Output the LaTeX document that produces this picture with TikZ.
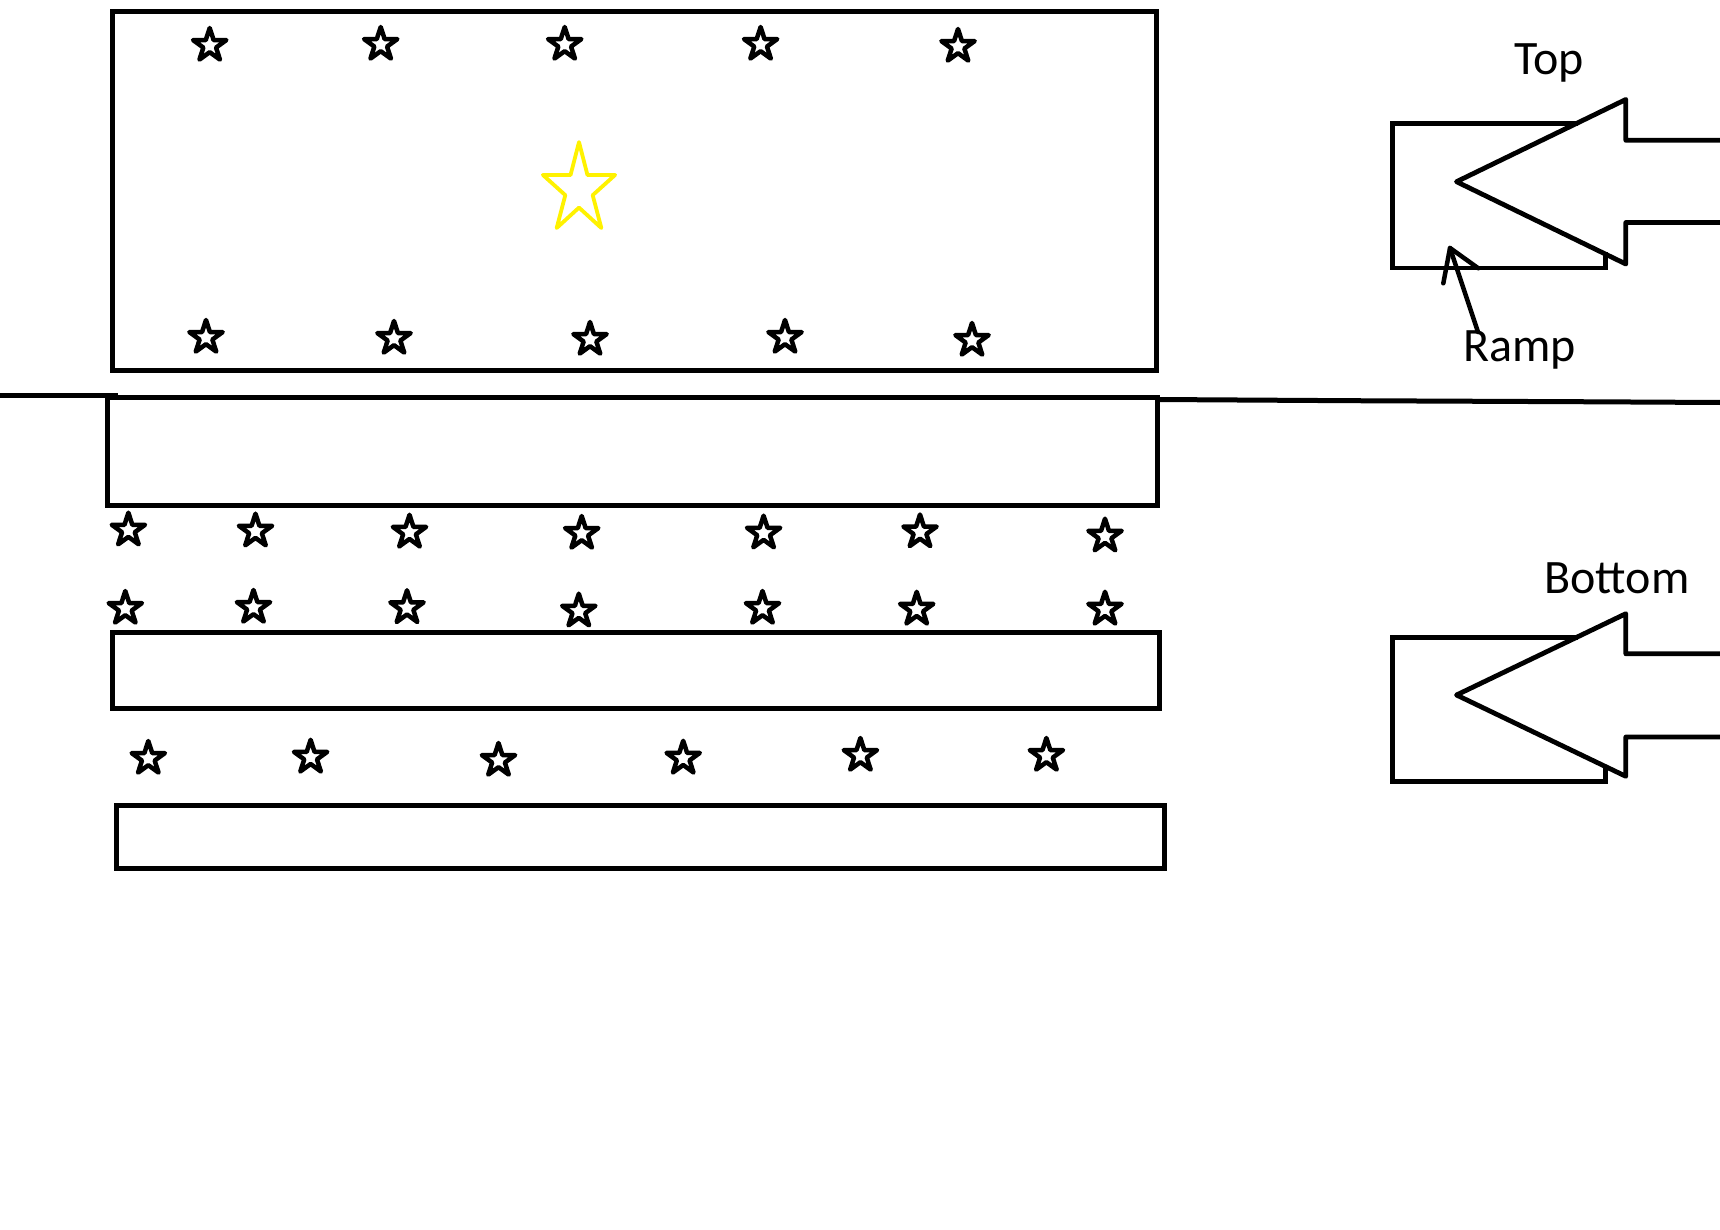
\documentclass[tikz,border=0pt]{standalone}
\usepackage{fontspec}
\setmainfont{Carlito}
\usetikzlibrary{shapes.geometric}
\definecolor{paintyellow}{RGB}{255,242,0}
\begin{document}
\begin{tikzpicture}[x=1pt,y=-1pt,
  box/.style={draw=black, line width=5pt},
  sstar/.style={star, star points=5, star point ratio=2.618, minimum size=35pt,
    inner sep=0pt, outer sep=0pt, draw=black, line width=4.5pt, line join=round},
  ystar/.style={draw=paintyellow, line width=3.8pt, line join=round},
  lbl/.style={font=\fontsize{48}{52}\selectfont, inner sep=0pt, outer sep=0pt, anchor=base west},
  bigarrow/.style={draw=black, line width=4.8pt, line join=round},
  rampline/.style={draw=black, line width=4.5pt, line cap=round}]
\useasboundingbox (0,0) rectangle (1720,1230);
\fill[white] (0,0) rectangle (1720,1230);

% rectangles
\draw[box] (112,11.5) rectangle (1156,370);
\draw[box] (107.5,397.5) rectangle (1157,505);
\draw[box] (112,632) rectangle (1159,708.7);
\draw[box] (116,805.3) rectangle (1164.6,868.7);

% long horizontal line
\draw[box] (0,395) -- (118,395);
\draw[box] (1157,399.5) -- (1350,400.7) -- (1595,401.8) -- (1720,402.5);

% yellow star
\draw[ystar, shift={(579,189.6)}, xscale=0.8]
  (90:47.5pt) -- (126:18pt) -- (162:47.5pt) -- (198:18pt) -- (234:47.5pt) --
  (270:18pt) -- (306:47.5pt) -- (342:18pt) -- (18:47.5pt) -- (54:18pt) -- cycle;

% small stars
\foreach \n/\x/\y in {
  a1/209.7/45.5, a2/380.7/44.5, a3/564.7/44.5, a4/760.6/44.5, a5/958/46.5,
  b1/206/337.5, b2/394/338.5, b3/590/339.5, b4/785/337.5, b5/972/340.5,
  c1/128.4/530.2, c2/255.5/531.2, c3/409.5/532.3, c4/581.7/533.5, c5/763.6/533.2, c6/920/532, c7/1105/536.2,
  d1/125.3/608.5, d2/253.5/607.5, d3/407/607.8, d4/578.8/611.2, d5/762.5/608.5, d6/916.7/609.3, d7/1105/609.3,
  e1/148.3/758.5, e2/310.6/757.3, e3/498.5/760.5, e4/683.2/758.3, e5/860.4/755.5, e6/1046.4/755.5}
  \node[sstar] (\n) at (\x,\y) {};

% top group
\draw[box, line width=4.8pt] (1578,123.8) -- (1392.8,123.8) -- (1392.8,268) -- (1605.3,268) -- (1605.3,251.7);
\draw[bigarrow] (1720,140.3) -- (1625.8,140.3) -- (1625.8,99.5) -- (1456.5,181.7)
  -- (1625.8,264) -- (1625.8,222.5) -- (1720,222.5);
\node[lbl] (top) at (1514.4,75) {Top};

% ramp pointer
\coordinate (ramptail) at (1478,332);
\coordinate (ramptip) at (1450,248);
\coordinate (barbL) at (1443.3,283.3);
\coordinate (barbR) at (1478.3,268.3);
\draw[rampline] (ramptail) -- (ramptip);
\draw[rampline, line join=round] (barbL) -- (ramptip) -- (barbR);
\node[lbl] (ramp) at (1463,361.7) {Ramp};

% bottom group
\draw[box, line width=4.8pt] (1578,637.8) -- (1392.8,637.8) -- (1392.8,781.7) -- (1605.3,781.7) -- (1605.3,766.7);
\draw[bigarrow] (1720,653.8) -- (1625.8,653.8) -- (1625.8,613.7) -- (1456.5,695)
  -- (1625.8,776.3) -- (1625.8,737) -- (1720,737);
\node[lbl] (bottom) at (1544.5,593.3) {Bottom};
\end{tikzpicture}
\end{document}
